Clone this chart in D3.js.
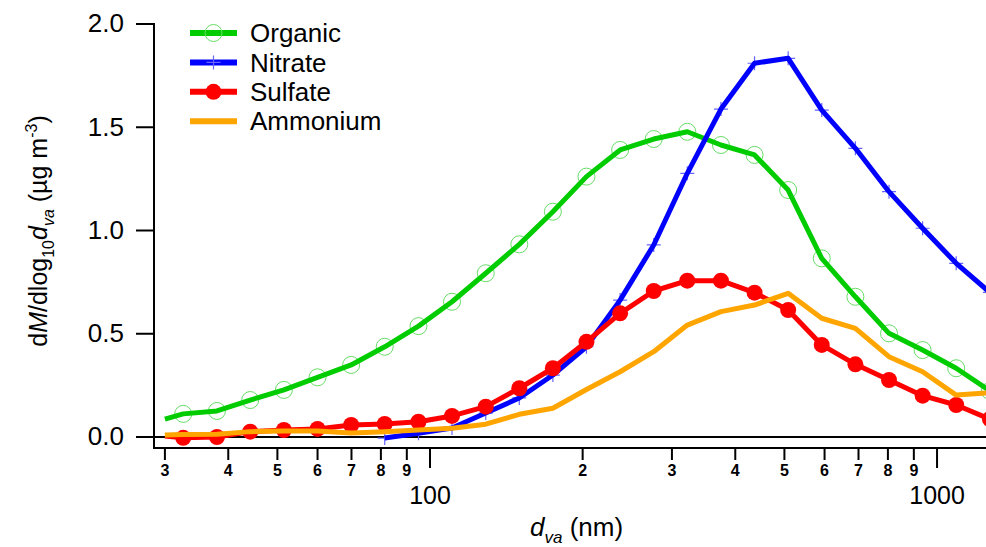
<!DOCTYPE html>
<html>
<head>
<meta charset="utf-8">
<script src="https://cdn.jsdelivr.net/npm/d3@7"></script>
<style>
  body { margin: 0; background: #fff; }
  svg { display: block; font-family: "Liberation Sans", Arial, sans-serif; }
</style>
</head>
<body>
<div class="chart"></div>
<script>
// size bins (nm); the line starts at 30 nm, markers from the 2nd bin on
var dva = [30, 32.6, 38.0, 44.2, 51.5, 60.0, 69.9, 81.4, 94.9, 110.5, 128.8, 150.0, 174.7,
  203.5, 237.1, 276.2, 321.7, 374.8, 436.6, 508.6, 592.4, 690.2, 804.0, 936.6, 1091, 1271];

var organic = [0.087, 0.112, 0.126, 0.179, 0.228, 0.289, 0.349, 0.437, 0.537, 0.655, 0.793, 0.933, 1.091,
  1.261, 1.390, 1.443, 1.478, 1.414, 1.366, 1.196, 0.865, 0.679, 0.502, 0.421, 0.333, 0.223];
var nitrate = [null, null, null, null, null, null, null, -0.005, 0.018, 0.044, 0.116, 0.189, 0.300,
  0.437, 0.663, 0.930, 1.277, 1.588, 1.810, 1.834, 1.583, 1.398, 1.188, 1.011, 0.841, 0.700];
var sulfate = [0.005, -0.004, 0.0, 0.026, 0.034, 0.039, 0.058, 0.063, 0.074, 0.102, 0.147, 0.236, 0.333,
  0.461, 0.599, 0.707, 0.757, 0.757, 0.699, 0.615, 0.446, 0.352, 0.276, 0.200, 0.155, 0.087];
var ammonium = [0.010, 0.012, 0.013, 0.026, 0.029, 0.029, 0.019, 0.026, 0.034, 0.042, 0.062, 0.110, 0.139,
  0.230, 0.316, 0.413, 0.542, 0.607, 0.639, 0.696, 0.575, 0.526, 0.389, 0.316, 0.203, 0.215];

var seriesNames = ["Organic", "Nitrate", "Sulfate", "Ammonium"];
var seriesColors = ["#00cc00", "#0000ff", "#ff0000", "#ffa500"];
var seriesMarkers = ["circle", "plus", "dot", "none"];
var seriesValues = [organic, nitrate, sulfate, ammonium];

var yTicks = [0, 0.5, 1.0, 1.5, 2.0];
var xMinorTicks = [30, 40, 50, 60, 70, 80, 90, 200, 300, 400, 500, 600, 700, 800, 900];
var xMinorLabels = ["3", "4", "5", "6", "7", "8", "9", "2", "3", "4", "5", "6", "7", "8", "9"];
var xMajorTicks = [100, 1000];

var svgWidth = 986, svgHeight = 547;
var plot = { left: 154, right: 986, top: 24, zero: 437, bottom: 448 };

var svg = d3.select(".chart").append("svg")
  .attr("width", svgWidth)
  .attr("height", svgHeight);

var xScale = d3.scaleLog()
  .domain([28.55, 1249])
  .range([plot.left, plot.right]);

var yScale = d3.scaleLinear()
  .domain([0, 2])
  .range([plot.zero, plot.top]);

// clip for the traces
svg.append("clipPath").attr("id", "plotclip")
  .append("rect")
  .attr("x", plot.left).attr("y", 0)
  .attr("width", plot.right - plot.left).attr("height", plot.bottom);

// y axis
var yAxis = d3.axisLeft(yScale)
  .tickValues(yTicks)
  .tickFormat(d3.format(".1f"))
  .tickSize(18)
  .tickPadding(12)
  .offset(0);

var yG = svg.append("g")
  .attr("transform", `translate(${plot.left}, 0)`)
  .call(yAxis);
yG.select(".domain").remove();
yG.selectAll("line").attr("stroke", "#000").attr("stroke-width", 2);
yG.selectAll("text").attr("font-size", 26).attr("fill", "#000")
  .attr("font-family", "Liberation Sans, Arial, sans-serif");

svg.append("line")
  .attr("x1", plot.left).attr("x2", plot.left)
  .attr("y1", plot.top - 1).attr("y2", plot.bottom + 1)
  .attr("stroke", "#000").attr("stroke-width", 2);

// bottom axis: minor ticks with small bold labels
var xMinorAxis = d3.axisBottom(xScale)
  .tickValues(xMinorTicks)
  .tickFormat((d, i) => xMinorLabels[i])
  .tickSize(12)
  .tickPadding(5)
  .offset(0);

var xMinorG = svg.append("g")
  .attr("transform", `translate(0, ${plot.bottom})`)
  .call(xMinorAxis);
xMinorG.select(".domain").remove();
xMinorG.selectAll("line").attr("stroke", "#000").attr("stroke-width", 2);
xMinorG.selectAll("text").attr("font-size", 16).attr("font-weight", "bold").attr("fill", "#000")
  .attr("font-family", "Liberation Sans, Arial, sans-serif");

var xMajorAxis = d3.axisBottom(xScale)
  .tickValues(xMajorTicks)
  .tickFormat(d3.format("d"))
  .tickSize(20)
  .tickPadding(18)
  .offset(0);

var xMajorG = svg.append("g")
  .attr("transform", `translate(0, ${plot.bottom})`)
  .call(xMajorAxis);
xMajorG.select(".domain").remove();
xMajorG.selectAll("line").attr("stroke", "#000").attr("stroke-width", 2);
xMajorG.selectAll("text").attr("font-size", 25).attr("fill", "#000")
  .attr("font-family", "Liberation Sans, Arial, sans-serif");

svg.append("line")
  .attr("x1", plot.left - 1).attr("x2", plot.right)
  .attr("y1", plot.bottom).attr("y2", plot.bottom)
  .attr("stroke", "#000").attr("stroke-width", 2);

// zero line
svg.append("line")
  .attr("x1", plot.left).attr("x2", plot.right)
  .attr("y1", yScale(0)).attr("y2", yScale(0))
  .attr("stroke", "#000").attr("stroke-width", 2);

// traces
var line = d3.line()
  .defined(d => d[1] !== null)
  .x(d => xScale(d[0]))
  .y(d => yScale(d[1]));

var traces = svg.append("g").attr("clip-path", "url(#plotclip)");

function drawMarker(g, kind, color, cx, cy) {
  if (kind === "circle") {
    g.append("circle").attr("cx", cx).attr("cy", cy).attr("r", 8.5)
      .attr("fill", "none").attr("stroke", "#66dd66").attr("stroke-width", 1);
  } else if (kind === "plus") {
    g.append("path")
      .attr("d", `M${cx - 7},${cy}H${cx + 7}M${cx},${cy - 7}V${cy + 7}`)
      .attr("stroke", "#6666ff").attr("stroke-width", 1.2);
  } else if (kind === "dot") {
    g.append("circle").attr("cx", cx).attr("cy", cy).attr("r", 8)
      .attr("fill", color);
  }
}

seriesValues.forEach(function (vals, s) {
  var pts = dva.map((d, i) => [d, vals[i]]);
  var g = traces.append("g");
  // markers sit on every bin except the 30 nm start of the line
  var markerG = g.append("g");
  pts.slice(1).filter(p => p[1] !== null).forEach(function (p) {
    drawMarker(markerG, seriesMarkers[s], seriesColors[s], xScale(p[0]), yScale(p[1]));
  });
  g.append("path")
    .datum(pts)
    .attr("d", line)
    .attr("fill", "none")
    .attr("stroke", seriesColors[s])
    .attr("stroke-width", 5)
    .attr("stroke-linejoin", "round");
  if (seriesMarkers[s] === "dot") g.node().appendChild(markerG.node());
});

// legend
var legend = svg.append("g");
seriesNames.forEach(function (name, i) {
  var ly = 33 + i * 29.4;
  var lg = legend.append("g");
  lg.append("line")
    .attr("x1", 190).attr("x2", 237)
    .attr("y1", ly).attr("y2", ly)
    .attr("stroke", seriesColors[i]).attr("stroke-width", 6);
  drawMarker(lg, seriesMarkers[i], seriesColors[i], 213.5, ly);
  lg.append("text")
    .attr("x", 250).attr("y", ly)
    .attr("dy", "0.35em")
    .attr("font-size", 26)
    .text(name);
});

// axis titles
var xTitle = svg.append("text")
  .attr("x", 530).attr("y", 536)
  .attr("font-size", 26);
xTitle.append("tspan").attr("font-style", "italic").text("d");
xTitle.append("tspan").attr("font-style", "italic").attr("font-size", 17).attr("dy", 7).text("va");
xTitle.append("tspan").attr("dy", -7).text(" (nm)");

var yTitle = svg.append("text")
  .attr("transform", "translate(47, 231) rotate(-90)")
  .attr("text-anchor", "middle")
  .attr("font-size", 25);
yTitle.append("tspan").text("d");
yTitle.append("tspan").attr("font-style", "italic").text("M");
yTitle.append("tspan").text("/dlog");
yTitle.append("tspan").attr("font-size", 16).attr("dy", 7).text("10");
yTitle.append("tspan").attr("font-style", "italic").attr("dy", -7).text("d");
yTitle.append("tspan").attr("font-style", "italic").attr("font-size", 16).attr("dy", 7).text("va");
yTitle.append("tspan").attr("dy", -7).text(" (µg m");
yTitle.append("tspan").attr("font-size", 16).attr("dy", -10).text("-3");
yTitle.append("tspan").attr("dy", 10).text(")");
</script>
</body>
</html>
